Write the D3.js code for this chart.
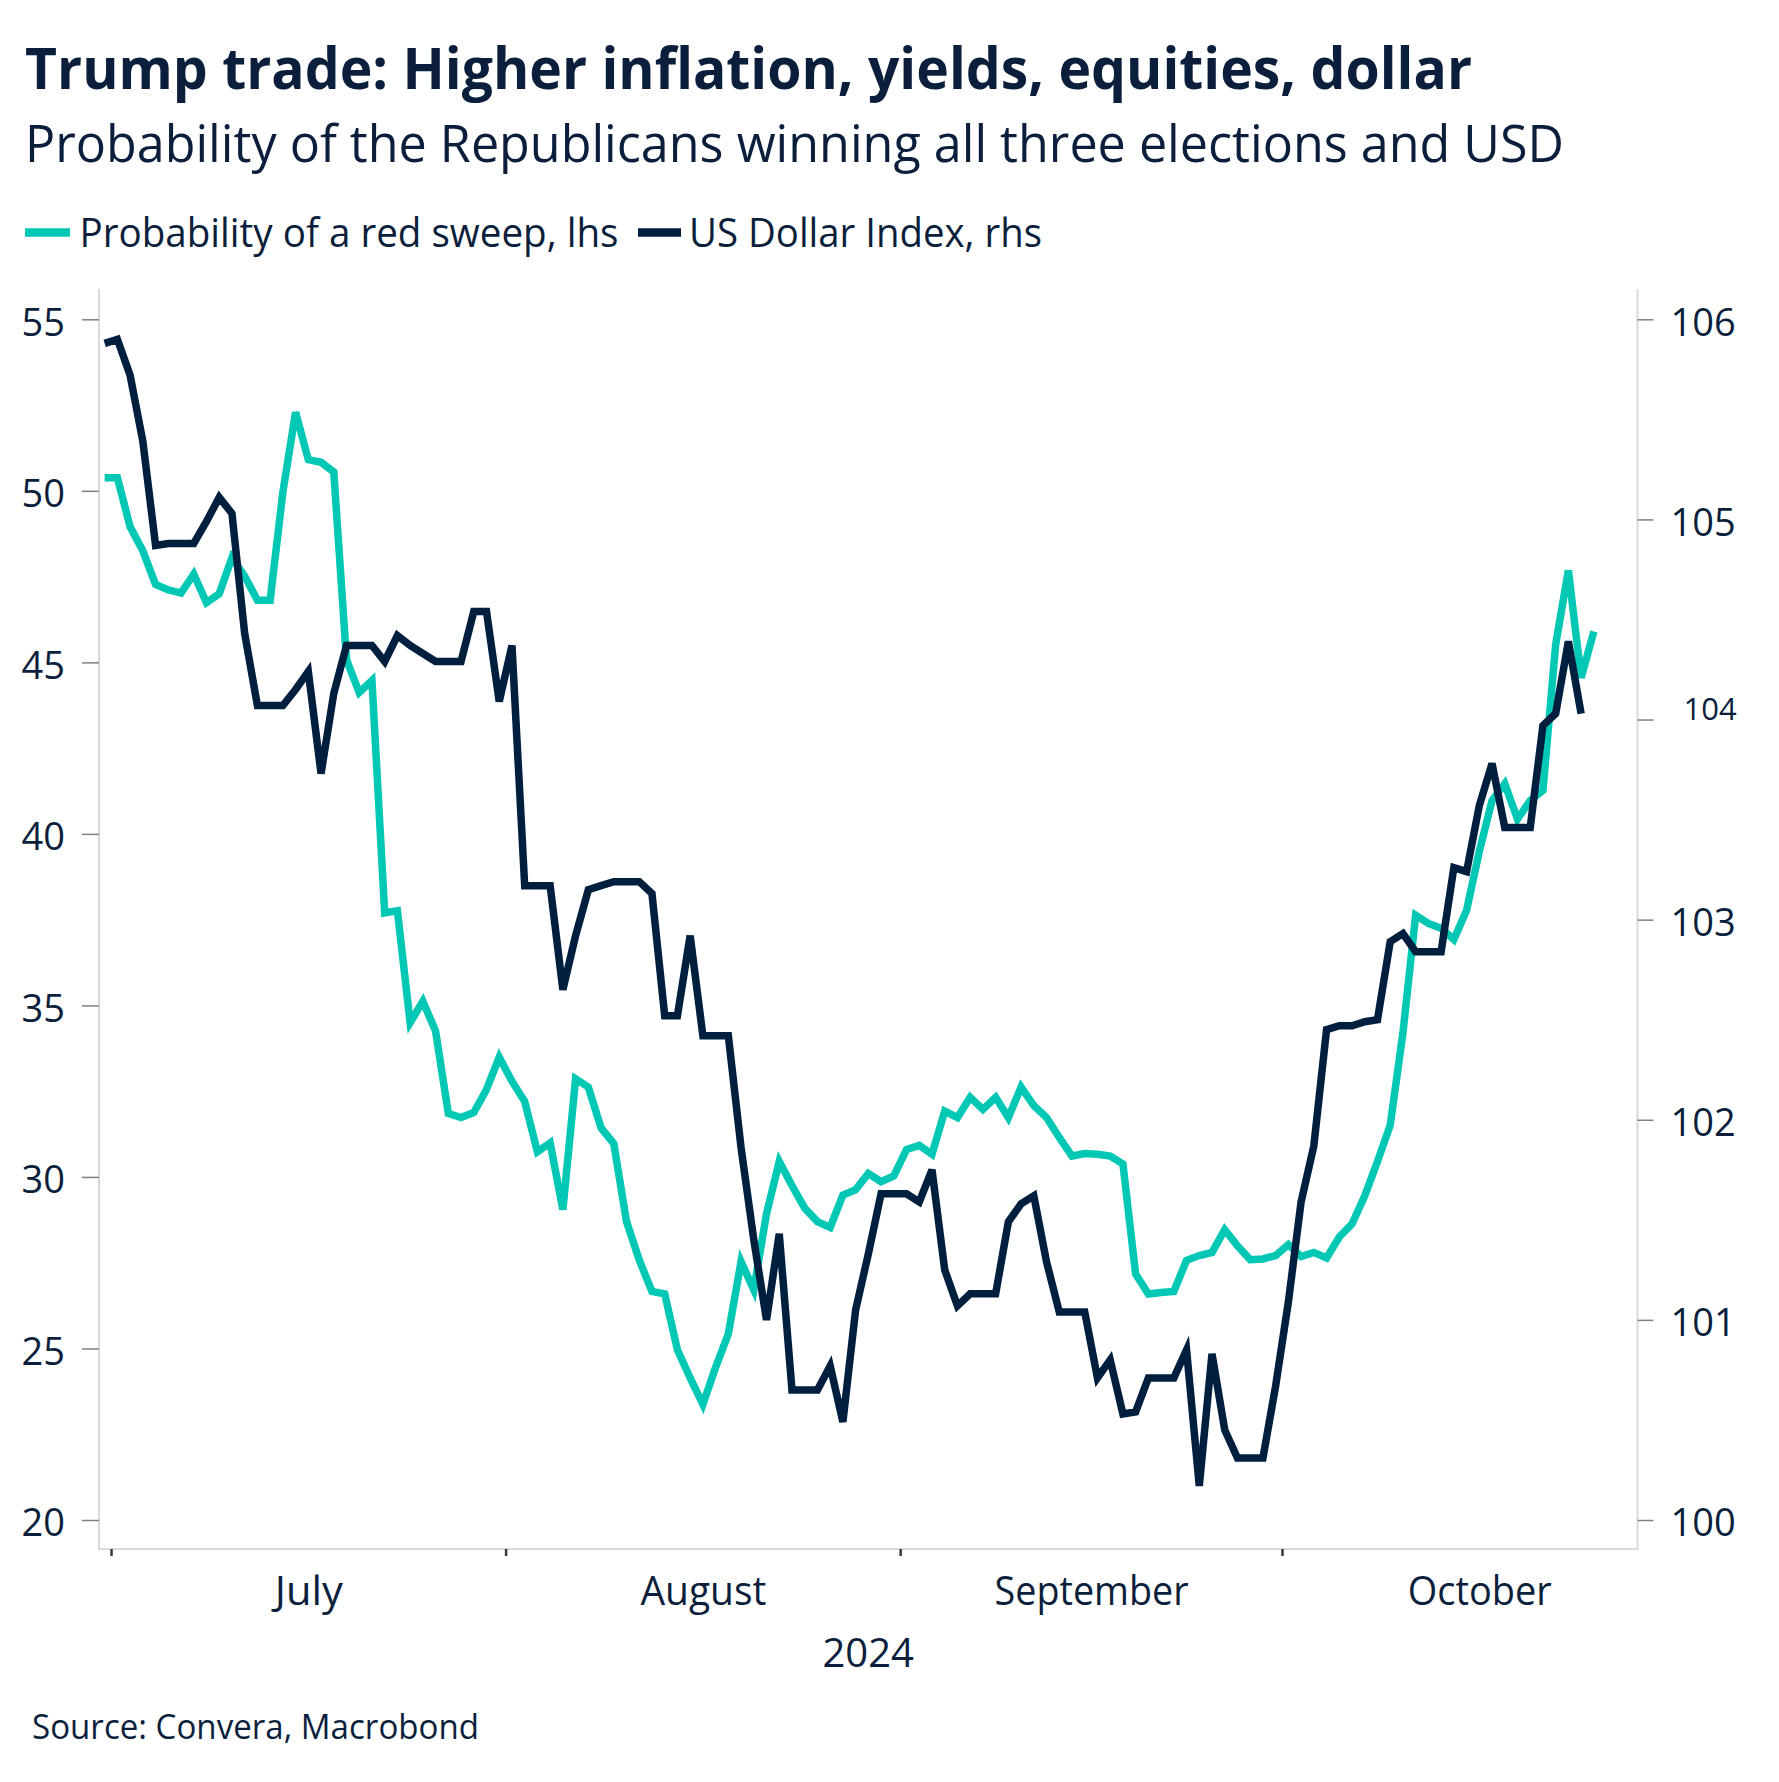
<!DOCTYPE html>
<html>
<head>
<meta charset="utf-8">
<script src="https://cdn.jsdelivr.net/npm/d3@7"></script>
<style>
  html, body { margin: 0; padding: 0; background: #ffffff; }
  svg { display: block; }
  text { font-family: "Open Sans", "Noto Sans", sans-serif; fill: #0b1f3c; }
</style>
</head>
<body>
<svg id="chart" width="1779" height="1782"></svg>
<script>
// ---------------- DATA ----------------
const titleText = "Trump trade: Higher inflation, yields, equities, dollar";
const subtitleText = "Probability of the Republicans winning all three elections and USD";
const sourceText = "Source: Convera, Macrobond";
const seriesNames = ["Probability of a red sweep, lhs", "US Dollar Index, rhs"];
const yearLabel = "2024";
const monthLabels = ["July", "August", "September", "October"];
const leftTicks = [20, 25, 30, 35, 40, 45, 50, 55];
const rightTicks = [100, 101, 102, 103, 104, 105, 106];
const firstDay = "2024-06-30"; // daily observations from this date

// Probability of a red sweep (%), daily, lhs
const redSweep = [
  50.38, 50.38, 48.95, 48.25, 47.27, 47.11, 47.02, 47.57, 46.74, 47.00,
  48.05, 47.51, 46.81, 46.81, 49.96, 52.29, 50.91, 50.83, 50.55, 45.08,
  44.12, 44.47, 37.70, 37.76, 34.50, 35.12, 34.25, 31.85, 31.73, 31.88,
  32.55, 33.49, 32.79, 32.20, 30.73, 30.99, 29.05, 32.86, 32.62, 31.43,
  30.97, 28.70, 27.58, 26.66, 26.59, 24.96, 24.14, 23.37, 24.45, 25.43,
  27.53, 26.71, 28.93, 30.45, 29.75, 29.09, 28.70, 28.53, 29.47, 29.63,
  30.10, 29.86, 30.03, 30.80, 30.92, 30.66, 31.92, 31.73, 32.32, 31.97,
  32.32, 31.73, 32.62, 32.08, 31.73, 31.15, 30.61, 30.68, 30.66, 30.61,
  30.38, 27.17, 26.59, 26.63, 26.66, 27.57, 27.71, 27.80, 28.46, 27.99,
  27.59, 27.61, 27.71, 28.03, 27.68, 27.80, 27.64, 28.25, 28.63, 29.45,
  30.45, 31.51, 34.20, 37.63, 37.39, 37.25, 36.92, 37.77, 39.49, 40.97,
  41.46, 40.43, 40.97, 41.27, 45.52, 47.68, 44.55, 45.90
];

// US Dollar Index, daily (weekends carried), rhs
const dollarIndex = [
  105.88, 105.90, 105.72, 105.39, 104.87, 104.88, 104.88, 104.88, 104.99, 105.11,
  105.03, 104.43, 104.07, 104.07, 104.07, 104.15, 104.24, 103.73, 104.13, 104.37,
  104.37, 104.37, 104.29, 104.42, 104.37, 104.33, 104.29, 104.29, 104.29, 104.54,
  104.54, 104.09, 104.37, 103.17, 103.17, 103.17, 102.65, 102.92, 103.15, 103.17,
  103.19, 103.19, 103.19, 103.13, 102.52, 102.52, 102.92, 102.42, 102.42, 102.42,
  101.86, 101.40, 101.00, 101.43, 100.65, 100.65, 100.65, 100.77, 100.49, 101.05,
  101.33, 101.63, 101.63, 101.63, 101.59, 101.75, 101.25, 101.07, 101.13, 101.13,
  101.13, 101.49, 101.58, 101.62, 101.29, 101.04, 101.04, 101.04, 100.71, 100.80,
  100.53, 100.54, 100.71, 100.71, 100.71, 100.85, 100.17, 100.83, 100.45, 100.31,
  100.31, 100.31, 100.67, 101.09, 101.59, 101.87, 102.45, 102.47, 102.47, 102.49,
  102.50, 102.89, 102.93, 102.84, 102.84, 102.84, 103.26, 103.24, 103.57, 103.78,
  103.46, 103.46, 103.46, 103.97, 104.03, 104.39, 104.03
];

// ---------------- LAYOUT ----------------
const W = 1779, H = 1782;
const plot = { left: 99, right: 1637.5, top: 289, bottom: 1549 };
const colors = { teal: "#00c8b4", navy: "#001f3f", text: "#0b1f3c", frame: "#d9d9d9", tick: "#808080" };

const svg = d3.select("#chart");
svg.append("rect").attr("width", W).attr("height", H).attr("fill", "#fff");

const start = d3.utcParse("%Y-%m-%d")(firstDay);
// observations plotted at mid-day
const obsDate = i => d3.utcHour.offset(d3.utcDay.offset(start, i), 12);

const x = d3.scaleUtc()
  .domain([start, d3.utcDay.offset(start, 121)])
  .range([98.3, 1638.4]);

const yL = d3.scaleLinear().domain([20, 55]).range([1520, 319.3]);
const yR = d3.scaleLinear().domain([100, 106]).range([1520, 319.3]);

// ---------------- TITLES ----------------
function fit(sel, w) {
  const n = sel.node().getComputedTextLength();
  if (Math.abs(n - w) / w > 0.01) sel.attr("textLength", w).attr("lengthAdjust", "spacingAndGlyphs");
  return sel;
}

fit(svg.append("text").attr("x", 25).attr("y", 88.5)
  .attr("font-size", 58).attr("font-weight", 700).text(titleText), 1447);
fit(svg.append("text").attr("x", 25).attr("y", 161.5)
  .attr("font-size", 51).text(subtitleText), 1539);

// Legend
const legend = svg.append("g");
legend.append("line").attr("x1", 25).attr("x2", 70).attr("y1", 232.5).attr("y2", 232.5)
  .attr("stroke", colors.teal).attr("stroke-width", 8.5);
fit(legend.append("text").attr("x", 79.5).attr("y", 246.7).attr("font-size", 40).text(seriesNames[0]), 539);
legend.append("line").attr("x1", 638).attr("x2", 681).attr("y1", 232.5).attr("y2", 232.5)
  .attr("stroke", colors.navy).attr("stroke-width", 8.5);
fit(legend.append("text").attr("x", 689).attr("y", 246.7).attr("font-size", 40).text(seriesNames[1]), 353);

// ---------------- AXES ----------------
// Frame
const frame = svg.append("g").attr("stroke", colors.frame).attr("stroke-width", 2).attr("fill", "none");
frame.append("line").attr("x1", plot.left).attr("x2", plot.left).attr("y1", plot.top).attr("y2", plot.bottom);
frame.append("line").attr("x1", plot.right).attr("x2", plot.right).attr("y1", plot.top).attr("y2", plot.bottom);
frame.append("line").attr("x1", plot.left - 1).attr("x2", plot.right + 1).attr("y1", plot.bottom).attr("y2", plot.bottom);

const gL = svg.append("g").attr("transform", `translate(${plot.left},0)`)
  .call(d3.axisLeft(yL).tickValues(leftTicks).tickSize(17).tickPadding(17).tickFormat(d3.format("d")));
gL.select(".domain").remove();
gL.selectAll(".tick line").attr("stroke", colors.tick).attr("stroke-width", 1.5);
gL.selectAll(".tick text").attr("font-size", 38).attr("dy", "0.42em").attr("fill", colors.text)
  .attr("font-family", null);

const gR = svg.append("g").attr("transform", `translate(${plot.right},0)`)
  .call(d3.axisRight(yR).tickValues(rightTicks).tickSize(16).tickPadding(17).tickFormat(d3.format("d")));
gR.select(".domain").remove();
gR.selectAll(".tick line").attr("stroke", colors.tick).attr("stroke-width", 1.5);
gR.selectAll(".tick text").attr("font-size", 38).attr("dy", "0.42em").attr("fill", colors.text)
  .attr("font-family", null);
// the 104 label is set smaller and offset in the original
gR.selectAll(".tick").filter(d => d === 104).select("text")
  .attr("font-size", 31).attr("x", 46).attr("dy", "-0.0em");

const monthStarts = d3.utcMonths(d3.utcDay.offset(start, 1), d3.utcDay.offset(start, 121));
const gX = svg.append("g").attr("transform", `translate(0,${plot.bottom})`)
  .call(d3.axisBottom(x).tickValues(monthStarts).tickSize(7).tickFormat(""));
gX.select(".domain").remove();
gX.selectAll(".tick line").attr("stroke", "#3a3a3a").attr("stroke-width", 2.5);

const monthMids = monthLabels.map((m, i) => {
  const a = d3.utcMonth.offset(d3.utcMonth.floor(d3.utcDay.offset(start, 1)), i);
  const b = d3.utcMonth.offset(a, 1);
  return new Date((+a + +b) / 2);
});
const monthWidths = [68, 126, 194, 144];
const gM = svg.append("g").attr("transform", `translate(0,${plot.bottom})`)
  .call(d3.axisBottom(x).tickValues(monthMids).tickSize(0).tickPadding(0)
    .tickFormat((d, i) => monthLabels[i]));
gM.select(".domain").remove();
gM.selectAll(".tick text").attr("font-size", 40).attr("dy", null).attr("y", 56).attr("fill", colors.text)
  .attr("font-family", null)
  .each(function(d, i) { fit(d3.select(this), monthWidths[i]); });

svg.append("text").attr("x", (plot.left + plot.right) / 2).attr("y", 1667)
  .attr("text-anchor", "middle").attr("font-size", 40).text(yearLabel);

fit(svg.append("text").attr("x", 32).attr("y", 1739).attr("font-size", 35).text(sourceText), 447);

// ---------------- LINES ----------------
const lineL = d3.line().x((d, i) => x(obsDate(i))).y(d => yL(d));
const lineR = d3.line().x((d, i) => x(obsDate(i))).y(d => yR(d));

svg.append("path").datum(redSweep).attr("d", lineL)
  .attr("fill", "none").attr("stroke", colors.teal).attr("stroke-width", 7.5);
svg.append("path").datum(dollarIndex).attr("d", lineR)
  .attr("fill", "none").attr("stroke", colors.navy).attr("stroke-width", 7.5);
</script>
</body>
</html>
